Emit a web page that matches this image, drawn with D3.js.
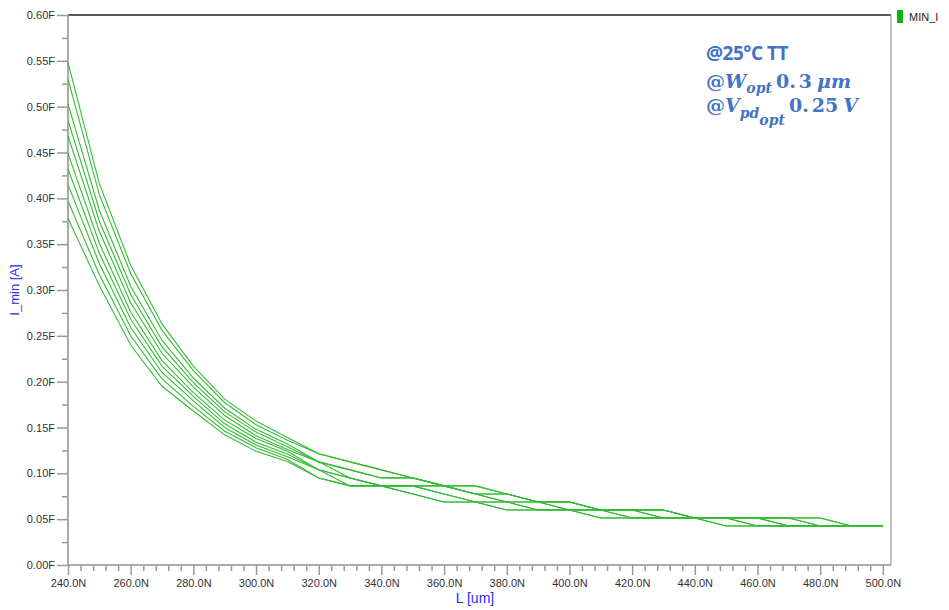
<!DOCTYPE html>
<html lang="en">
<head>
<meta charset="UTF-8">
<title>MIN_I vs L</title>
<style>
    body { margin: 0; padding: 0; background: #fff; }
    svg { display: block; font-family: "Liberation Sans", Arial, sans-serif; }
</style>
</head>
<body>
<svg id="chart" width="949" height="610"></svg>
<script src="https://d3js.org/d3.v7.min.js"></script>
<script>
    // L values (nm) and the 10 MIN_I curves (fA)
    var lengths = [240, 250, 260, 270, 280, 290, 300, 310, 320, 330, 340, 350, 360, 370,
                   380, 390, 400, 410, 420, 430, 440, 450, 460, 470, 480, 490, 500];

    var curve0 = [.548, .416, .327, .263, .217, .181, .157, .139, .1213, .1125, .1038, .095, .0863, .0775,
                  .0775, .0688, .0688, .060, .060, .060, .0513, .0513, .0513, .0513, .0513, .0425, .0425];
    var curve1 = [.530, .404, .318, .256, .212, .177, .153, .136, .1213, .1125, .1038, .095, .0863, .0775,
                  .0775, .0688, .0688, .060, .060, .060, .0513, .0513, .0513, .0513, .0513, .0425, .0425];
    var curve2 = [.503, .387, .304, .245, .204, .171, .148, .132, .1125, .1038, .095, .095, .0863, .0863,
                  .0775, .0688, .0688, .060, .060, .060, .0513, .0513, .0513, .0513, .0425, .0425, .0425];
    var curve3 = [.485, .375, .295, .238, .199, .167, .145, .129, .1125, .1038, .095, .095, .0863, .0863,
                  .0775, .0688, .0688, .060, .060, .060, .0513, .0513, .0513, .0513, .0425, .0425, .0425];
    var curve4 = [.468, .364, .286, .231, .194, .163, .141, .126, .1125, .095, .0863, .0863, .0863, .0775,
                  .0688, .0688, .060, .060, .060, .0513, .0513, .0513, .0513, .0425, .0425, .0425, .0425];
    var curve5 = [.449, .351, .276, .223, .188, .158, .138, .124, .1038, .095, .0863, .0863, .0863, .0775,
                  .0688, .0688, .060, .060, .060, .0513, .0513, .0513, .0513, .0425, .0425, .0425, .0425];
    var curve6 = [.432, .340, .268, .217, .184, .154, .134, .121, .1038, .095, .0863, .0863, .0775, .0688,
                  .0688, .060, .060, .060, .0513, .0513, .0513, .0513, .0425, .0425, .0425, .0425, .0425];
    var curve7 = [.415, .329, .259, .210, .179, .150, .131, .118, .1038, .0863, .0863, .0863, .0775, .0688,
                  .0688, .060, .060, .060, .0513, .0513, .0513, .0513, .0425, .0425, .0425, .0425, .0425];
    var curve8 = [.397, .317, .250, .203, .173, .146, .128, .115, .095, .0863, .0863, .0775, .0688, .0688,
                  .060, .060, .060, .0513, .0513, .0513, .0513, .0425, .0425, .0425, .0425, .0425, .0425];
    var curve9 = [.378, .305, .240, .195, .168, .142, .124, .113, .095, .0863, .0863, .0775, .0688, .0688,
                  .060, .060, .060, .0513, .0513, .0513, .0513, .0425, .0425, .0425, .0425, .0425, .0425];

    var curves = [curve0, curve1, curve2, curve3, curve4, curve5, curve6, curve7, curve8, curve9];

    var yTicks = [0, .05, .10, .15, .20, .25, .30, .35, .40, .45, .50, .55, .60];
    var xTicks = [240, 260, 280, 300, 320, 340, 360, 380, 400, 420, 440, 460, 480, 500];

    var plot = {left: 68, right: 891, top: 15, bottom: 565};
    var lineColor = "#33bb33";
    var labelBlue = "#2a2af0";

    var svg = d3.select("#chart");

    var x = d3.scaleLinear().domain([240, 502.6]).range([plot.left, plot.right]);
    var y = d3.scaleLinear().domain([0, 0.6]).range([plot.bottom, plot.top]);

    // frame: black top, grey right
    svg.append("line")
        .attr("x1", plot.left).attr("x2", plot.right)
        .attr("y1", plot.top).attr("y2", plot.top)
        .attr("stroke", "#222").attr("stroke-width", 1.5);
    svg.append("line")
        .attr("x1", plot.right).attr("x2", plot.right)
        .attr("y1", plot.top).attr("y2", plot.bottom)
        .attr("stroke", "#aaa").attr("stroke-width", 1.5);

    // Y axis
    var yMinor = d3.range(0.025, 0.6, 0.05);
    svg.append("g")
        .attr("transform", "translate(" + plot.left + ",0)")
        .call(d3.axisLeft(y).tickValues(yMinor).tickSize(6).tickFormat(""))
        .call(g => g.select(".domain").remove());
    var yAxis = svg.append("g")
        .attr("transform", "translate(" + plot.left + ",0)")
        .call(d3.axisLeft(y).tickValues(yTicks).tickSize(11).tickPadding(2)
            .tickFormat(d => d.toFixed(2) + "F"));

    // X axis
    var xMinor = d3.range(244, 500, 4).filter(d => (d - 240) % 20 !== 0);
    svg.append("g")
        .attr("transform", "translate(0," + plot.bottom + ")")
        .call(d3.axisBottom(x).tickValues(xMinor).tickSize(6).tickFormat(""))
        .call(g => g.select(".domain").remove());
    var xAxis = svg.append("g")
        .attr("transform", "translate(0," + plot.bottom + ")")
        .call(d3.axisBottom(x).tickValues(xTicks).tickSize(10).tickPadding(4)
            .tickFormat(d => d.toFixed(1) + "N"));

    svg.selectAll(".tick line").attr("stroke", "#999").attr("stroke-width", 1.5);
    svg.selectAll(".domain").attr("stroke", "#aaa").attr("stroke-width", 2);
    yAxis.select(".domain").attr("d", "M0," + plot.top + "V" + plot.bottom);
    xAxis.select(".domain").attr("d", "M" + plot.left + ",0H" + plot.right);
    svg.selectAll(".tick text")
        .attr("fill", "#333")
        .style("font-size", "11px")
        .style("font-family", "'Liberation Sans', Arial, sans-serif");

    // curves
    var line = d3.line()
        .x((d, i) => x(lengths[i]))
        .y(d => y(d));

    svg.append("g")
        .selectAll("path")
        .data(curves)
        .enter()
        .append("path")
        .attr("d", line)
        .attr("fill", "none")
        .attr("stroke", lineColor)
        .attr("stroke-width", 1.1);

    // axis titles
    svg.append("text")
        .attr("transform", "translate(19,290) rotate(-90)")
        .attr("text-anchor", "middle")
        .attr("fill", labelBlue)
        .style("font-size", "13px")
        .text("I_min [A]");

    svg.append("text")
        .attr("x", 475)
        .attr("y", 603)
        .attr("text-anchor", "middle")
        .attr("fill", labelBlue)
        .style("font-size", "14px")
        .text("L [um]");

    // legend
    svg.append("rect")
        .attr("x", 897).attr("y", 10)
        .attr("width", 6).attr("height", 13)
        .attr("fill", "#0fb30f");
    svg.append("text")
        .attr("x", 909).attr("y", 21)
        .attr("fill", "#222")
        .style("font-size", "11px")
        .text("MIN_I");

    // annotation
    var noteBlue = "#4472c4";
    var note = svg.append("g").attr("fill", noteBlue).style("font-weight", "bold");

    note.append("text")
        .attr("x", 706).attr("y", 60)
        .style("font-family", "'Open Sans', 'Liberation Sans', sans-serif")
        .style("font-size", "19px")
        .style("letter-spacing", "-0.5px")
        .text("@25°C TT");

    var serif = "'DejaVu Serif', 'Liberation Serif', serif";
    var t2 = note.append("text")
        .attr("x", 706).attr("y", 88)
        .style("font-family", serif)
        .style("font-size", "19px");
    t2.append("tspan").text("@");
    t2.append("tspan").style("font-style", "italic").text("W");
    t2.append("tspan").attr("dy", 5).style("font-style", "italic").style("font-size", "14px").text("opt");
    t2.append("tspan").attr("dy", -5).attr("dx", 4).text("0.");
    t2.append("tspan").attr("dx", 3).text("3");
    t2.append("tspan").attr("dx", 5).style("font-style", "italic").text("μm");

    var t3 = note.append("text")
        .attr("x", 706).attr("y", 112)
        .style("font-family", serif)
        .style("font-size", "19px");
    t3.append("tspan").text("@");
    t3.append("tspan").style("font-style", "italic").text("V");
    t3.append("tspan").attr("dy", 6).style("font-style", "italic").style("font-size", "14px").text("pd");
    t3.append("tspan").attr("dy", 7).style("font-style", "italic").style("font-size", "14px").text("opt");
    t3.append("tspan").attr("dy", -13).attr("dx", 4).text("0.");
    t3.append("tspan").attr("dx", 3).text("25");
    t3.append("tspan").attr("dx", 5).style("font-style", "italic").text("V");
</script>
</body>
</html>
